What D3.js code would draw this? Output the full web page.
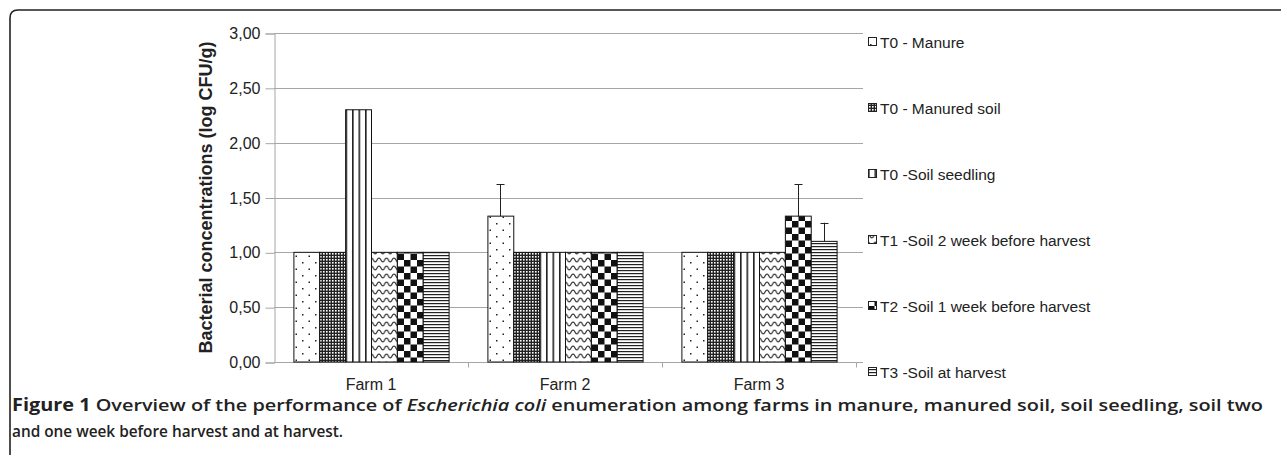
<!DOCTYPE html>
<html>
<head>
<meta charset="utf-8">
<script src="https://cdn.jsdelivr.net/npm/d3@7"></script>
<style>
  body { margin: 0; background: #fff; }
  svg { display: block; }
  .sans { font-family: 'Liberation Sans', Arimo, Arial, Helvetica, sans-serif; }
  .narrow { font-family: 'Liberation Sans Narrow', 'Open Sans', 'Liberation Sans', sans-serif; }
</style>
</head>
<body>
<div id="chart"></div>
<script>
// categories and series
const farms = ['Farm 1', 'Farm 2', 'Farm 3'];
const seriesNames = [
    'T0 - Manure',
    'T0 - Manured soil',
    'T0 -Soil seedling',
    'T1 -Soil 2 week before harvest',
    'T2 -Soil 1 week before harvest',
    'T3 -Soil at harvest'
];

// mean values (log CFU/g), one array per series, in farm order
const manure = [1.00, 1.33, 1.00];
const manuredSoil = [1.00, 1.00, 1.00];
const soilSeedling = [2.30, 1.00, 1.00];
const soil2Week = [1.00, 1.00, 1.00];
const soil1Week = [1.00, 1.00, 1.33];
const soilHarvest = [1.00, 1.00, 1.10];

// upper error bars (0 = none)
const manureErr = [0, 0.29, 0];
const soil1WeekErr = [0, 0, 0.29];
const soilHarvestErr = [0, 0, 0.17];

const yTicks = [0, 0.5, 1, 1.5, 2, 2.5, 3];

const values = [manure, manuredSoil, soilSeedling, soil2Week, soil1Week, soilHarvest];
const errors = [manureErr, null, null, null, soil1WeekErr, soilHarvestErr];

const W = 1281, H = 455;
const svg = d3.select('#chart').append('svg')
    .attr('width', W)
    .attr('height', H);

// --- patterns for each series
const defs = svg.append('defs');
const patIds = ['p-dots', 'p-grid', 'p-vert', 'p-wave', 'p-check', 'p-horiz'];

let p = defs.append('pattern').attr('id', 'p-dots').attr('patternUnits', 'userSpaceOnUse')
    .attr('width', 13).attr('height', 13);
p.append('rect').attr('width', 13).attr('height', 13).attr('fill', '#fff');
p.append('rect').attr('x', 2).attr('y', 2).attr('width', 1.5).attr('height', 1.5).attr('fill', '#222');
p.append('rect').attr('x', 8.5).attr('y', 8.5).attr('width', 1.5).attr('height', 1.5).attr('fill', '#222');

p = defs.append('pattern').attr('id', 'p-grid').attr('patternUnits', 'userSpaceOnUse')
    .attr('width', 3).attr('height', 3);
p.append('rect').attr('width', 3).attr('height', 3).attr('fill', '#222');
p.append('rect').attr('x', 1).attr('y', 1).attr('width', 1.6).attr('height', 1.6).attr('fill', '#fff');

p = defs.append('pattern').attr('id', 'p-vert').attr('patternUnits', 'userSpaceOnUse')
    .attr('width', 6.5).attr('height', 6);
p.append('rect').attr('width', 6.5).attr('height', 6).attr('fill', '#fff');
p.append('rect').attr('x', 0).attr('width', 1.6).attr('height', 6).attr('fill', '#222');

p = defs.append('pattern').attr('id', 'p-wave').attr('patternUnits', 'userSpaceOnUse')
    .attr('width', 7.5).attr('height', 8);
p.append('rect').attr('width', 7.5).attr('height', 8).attr('fill', '#fff');
p.append('path').attr('d', 'M0,2 C1.9,2 1.9,6 3.75,6 C5.6,6 5.6,2 7.5,2').attr('fill', 'none')
    .attr('stroke', '#222').attr('stroke-width', 1.1);

p = defs.append('pattern').attr('id', 'p-check').attr('patternUnits', 'userSpaceOnUse')
    .attr('width', 13).attr('height', 13);
p.append('rect').attr('width', 13).attr('height', 13).attr('fill', '#fff');
p.append('rect').attr('width', 6.5).attr('height', 6.5).attr('fill', '#111');
p.append('rect').attr('x', 6.5).attr('y', 6.5).attr('width', 6.5).attr('height', 6.5).attr('fill', '#111');

p = defs.append('pattern').attr('id', 'p-horiz').attr('patternUnits', 'userSpaceOnUse')
    .attr('width', 6).attr('height', 3);
p.append('rect').attr('width', 6).attr('height', 3).attr('fill', '#fff');
p.append('rect').attr('y', 0).attr('width', 6).attr('height', 1.2).attr('fill', '#222');

// --- figure frame (top and left edges, rounded corner)
svg.append('path')
    .attr('d', `M10,${H} L10,18 Q10,10 18,10 L${W},10`)
    .attr('fill', 'none')
    .attr('stroke', '#222')
    .attr('stroke-width', 1.6);

// --- scales
const plotLeft = 274, plotRight = 856, gridRight = 863;
const y = d3.scaleLinear().domain([0, 3]).range([362, 33]);
const x0 = d3.scaleBand().domain(farms).range([plotLeft, plotRight]);
const x1 = d3.scaleBand().domain(d3.range(seriesNames.length))
    .range([x0.bandwidth() * 0.1, x0.bandwidth() * 0.9]);

// gridlines
svg.append('g')
    .selectAll('line')
    .data(yTicks)
    .join('line')
    .attr('x1', plotLeft)
    .attr('x2', gridRight)
    .attr('y1', d => Math.round(y(d)) + 0.5)
    .attr('y2', d => Math.round(y(d)) + 0.5)
    .attr('stroke', '#a6a6a6')
    .attr('stroke-width', 1);

// y axis
const yAxis = svg.append('g')
    .attr('transform', `translate(${plotLeft + 0.5},0.5)`)
    .call(d3.axisLeft(y).tickValues(yTicks).tickSize(9).tickPadding(5)
        .tickFormat(d => d3.format('.2f')(d).replace('.', ',')));
yAxis.attr('font-family', null).attr('font-size', null);
yAxis.select('.domain').attr('stroke', '#a6a6a6');
yAxis.selectAll('.tick line').attr('stroke', '#a6a6a6');
yAxis.selectAll('text')
    .attr('class', 'sans')
    .attr('font-size', 16)
    .attr('fill', '#222');

// x axis
const xAxis = svg.append('g')
    .attr('transform', `translate(0,${Math.round(y(0)) + 0.5})`);
xAxis.append('line')
    .attr('x1', plotLeft).attr('x2', gridRight)
    .attr('stroke', '#a6a6a6');
xAxis.selectAll('.xtick')
    .data(farms.slice(1).concat(['end']))
    .join('line')
    .attr('class', 'xtick')
    .attr('x1', (d, i) => Math.round(x0(farms[0]) + x0.bandwidth() * (i + 1)) + 0.5)
    .attr('x2', (d, i) => Math.round(x0(farms[0]) + x0.bandwidth() * (i + 1)) + 0.5)
    .attr('y1', 0).attr('y2', 5)
    .attr('stroke', '#a6a6a6');
xAxis.selectAll('.xlabel')
    .data(farms)
    .join('text')
    .attr('class', 'sans')
    .attr('x', d => x0(d) + x0.bandwidth() / 2)
    .attr('y', 27)
    .attr('text-anchor', 'middle')
    .attr('font-size', 16)
    .attr('fill', '#222')
    .text(d => d);

// y axis title
svg.append('text')
    .attr('class', 'sans')
    .attr('transform', `translate(212,${(y(0) + y(3)) / 2}) rotate(-90)`)
    .attr('text-anchor', 'middle')
    .attr('font-size', 18)
    .attr('font-weight', 'bold')
    .attr('fill', '#222')
    .text('Bacterial concentrations (log CFU/g)');

// bars
const groups = svg.append('g')
    .selectAll('g')
    .data(farms)
    .join('g')
    .attr('transform', d => `translate(${x0(d)},0)`);

groups.selectAll('rect')
    .data((d, fi) => values.map((s, si) => ({ si, v: s[fi] })))
    .join('rect')
    .attr('x', d => x1(d.si) + 0.5)
    .attr('y', d => y(d.v))
    .attr('width', x1.bandwidth())
    .attr('height', d => y(0) - y(d.v))
    .attr('fill', d => `url(#${patIds[d.si]})`)
    .attr('stroke', '#111')
    .attr('stroke-width', 1);

// error bars (upper only)
const errData = [];
farms.forEach((f, fi) => {
    errors.forEach((e, si) => {
        if (e && e[fi] > 0) errData.push({ f, si, v: values[si][fi], e: e[fi] });
    });
});
const eb = svg.append('g')
    .selectAll('g')
    .data(errData)
    .join('g')
    .attr('transform', d => `translate(${Math.round(x0(d.f) + x1(d.si) + x1.bandwidth() / 2) + 0.5},0)`);
eb.append('line')
    .attr('y1', d => y(d.v))
    .attr('y2', d => y(d.v + d.e))
    .attr('stroke', '#222');
eb.append('line')
    .attr('x1', -4).attr('x2', 4)
    .attr('y1', d => Math.round(y(d.v + d.e)) + 0.5)
    .attr('y2', d => Math.round(y(d.v + d.e)) + 0.5)
    .attr('stroke', '#222');

// legend
const legend = svg.append('g')
    .selectAll('g')
    .data(seriesNames)
    .join('g')
    .attr('transform', (d, i) => `translate(868,${42 + i * 66})`);
legend.append('rect')
    .attr('x', 0.5).attr('y', -4.5)
    .attr('width', 8).attr('height', 8)
    .attr('fill', (d, i) => `url(#${patIds[i]})`)
    .attr('stroke', '#222');
legend.append('text')
    .attr('class', 'sans')
    .attr('x', 12)
    .attr('y', 5.5)
    .attr('font-size', 15.5)
    .attr('fill', '#222')
    .text(d => d);

// caption
const cap1 = svg.append('text')
    .attr('class', 'narrow')
    .attr('x', 12)
    .attr('y', 411)
    .attr('font-size', 17)
    .attr('font-weight', 'bold')
    .attr('fill', '#222')
    .attr('textLength', 1251)
    .attr('lengthAdjust', 'spacingAndGlyphs');
cap1.append('tspan').text('Figure 1 ');
cap1.append('tspan').style('font-weight', '600').text('Overview of the performance of ');
cap1.append('tspan').attr('font-style', 'italic').style('font-weight', '600').text('Escherichia coli');
cap1.append('tspan').style('font-weight', '600').text(' enumeration among farms in manure, manured soil, soil seedling, soil two');

svg.append('text')
    .attr('class', 'narrow')
    .attr('x', 12)
    .attr('y', 437)
    .attr('font-size', 17)
    .attr('font-weight', '600')
    .attr('fill', '#222')
    .attr('textLength', 331)
    .attr('lengthAdjust', 'spacingAndGlyphs')
    .text('and one week before harvest and at harvest.');
</script>
</body>
</html>
